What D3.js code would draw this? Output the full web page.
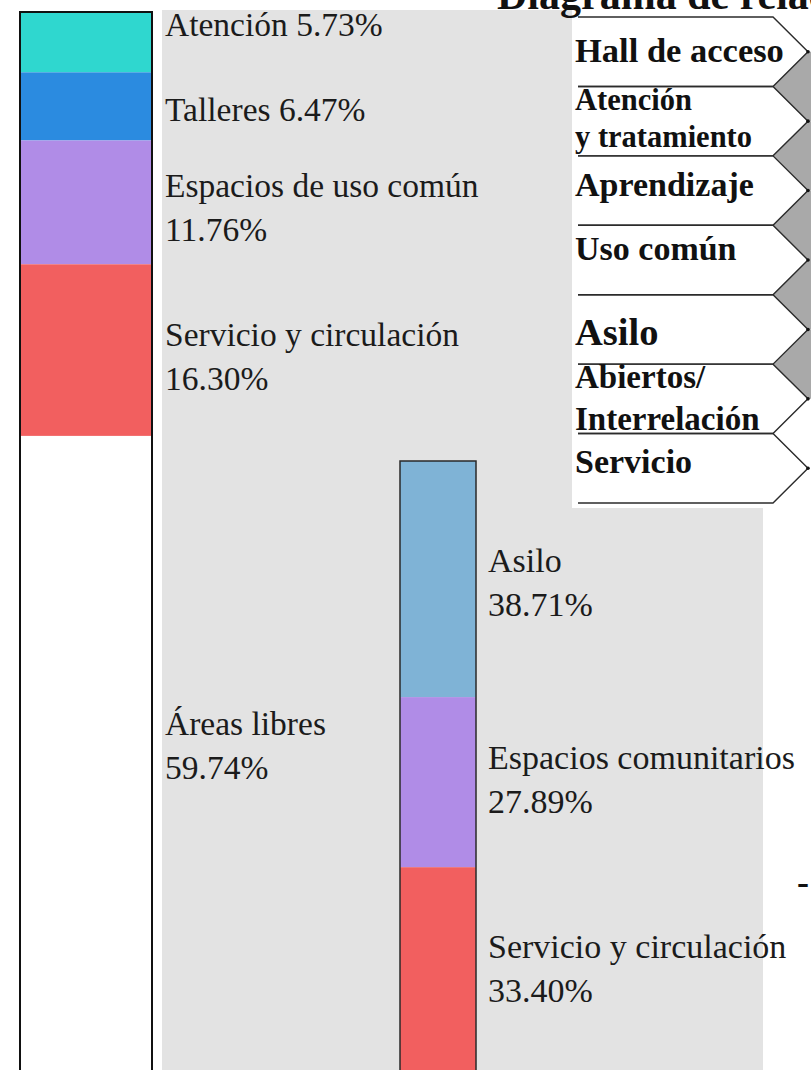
<!DOCTYPE html>
<html>
<head>
<meta charset="utf-8">
<script src="https://cdn.jsdelivr.net/npm/d3@7/dist/d3.min.js"></script>
<style>
  html, body { margin: 0; padding: 0; background: #ffffff; }
  svg { display: block; }
</style>
</head>
<body>
<script>
// ---------------- DATA ----------------
const leftCategories = ["Atención", "Talleres", "Espacios de uso común", "Servicio y circulación", "Áreas libres"];
const leftValues = [5.73, 6.47, 11.76, 16.30, 59.74];
const leftInline = [true, true, false, false, false];

const midCategories = ["Asilo", "Espacios comunitarios", "Servicio y circulación"];
const midValues = [38.71, 27.89, 33.40];

const flowRows = [["Hall de acceso"], ["Atención", "y tratamiento"], ["Aprendizaje"], ["Uso común"], ["Asilo"], ["Abiertos/", "Interrelación"], ["Servicio"]];
const flowLinked = [true, true, true, true, true, false];

const titleText = "Diagrama de relaciones";

// ---------------- STYLE ----------------
const leftColors = ["#2fd7cf", "#2b8be0", "#b08ce7", "#f25f5f", "#ffffff"];
const midColors = ["#7fb3d6", "#b08ce7", "#f25f5f"];
const leftLabelDy = [-6, 15, -5, -4, -15];
const midLabelDy = [-7, -13, -11];
const flowFontSize = [34.5, 30.5, 34, 34, 38.5, 33, 34];
const flowFirstDy = [45, 24, 40, 35, 50, 24, 39];
const flowLineGap = [0, 37, 0, 0, 0, 42, 0];

const W = 811, H = 1070;
const serif = "'Liberation Serif', 'Times New Roman', serif";

const svg = d3.select("body").append("svg").attr("width", W).attr("height", H);

// gray background panel
svg.append("rect").attr("x", 162).attr("y", 10).attr("width", 601).attr("height", H - 10).attr("fill", "#e3e3e3");

// ---------------- stacked bar helper ----------------
function stackBar(values, cats, colors, x0, x1, yScale, stroke, sw, labelX, labelDy, inline, lineGap, fs) {
  const cum = d3.cumsum(values);
  const segs = values.map((v, i) => ({ v, c: cats[i], col: colors[i], s: i ? cum[i - 1] : 0, e: cum[i], i }));
  const g = svg.append("g");
  g.selectAll("rect.seg").data(segs).join("rect")
    .attr("class", "seg")
    .attr("x", x0).attr("width", x1 - x0)
    .attr("y", d => yScale(d.s))
    .attr("height", d => yScale(d.e) - yScale(d.s))
    .attr("fill", d => d.col);
  // outline: runs past the bottom edge of the picture, as in the reference
  g.append("rect")
    .attr("x", x0).attr("width", x1 - x0)
    .attr("y", yScale(0)).attr("height", H + 20 - yScale(0))
    .attr("fill", "none").attr("stroke", stroke).attr("stroke-width", sw);
  const fmt = d => d.toFixed(2) + "%";
  const t = g.selectAll("text.lbl").data(segs).join("text")
    .attr("class", "lbl")
    .attr("x", labelX)
    .attr("y", d => (yScale(d.s) + yScale(d.e)) / 2 + labelDy[d.i])
    .attr("font-family", serif).attr("font-size", fs).attr("fill", "#1b1b1b");
  t.each(function (d) {
    const el = d3.select(this);
    if (inline && inline[d.i]) {
      el.text(d.c + " " + fmt(d.v));
    } else {
      el.append("tspan").attr("x", labelX).text(d.c);
      el.append("tspan").attr("x", labelX).attr("dy", lineGap).text(fmt(d.v));
    }
  });
}

// left bar
const yLeft = d3.scaleLinear().domain([0, 100]).range([12, 1065]);
stackBar(leftValues, leftCategories, leftColors, 20, 152, yLeft, "#111", 2, 165, leftLabelDy, leftInline, 44, 33.5);

// middle bar
const yMid = d3.scaleLinear().domain([0, 100]).range([461, 1071]);
stackBar(midValues, midCategories, midColors, 400, 476, yMid, "#2a2a2a", 1.5, 488, midLabelDy, null, 44, 34);

// ---------------- flow diagram (right) ----------------
svg.append("rect").attr("x", 572).attr("y", 10).attr("width", W - 572).attr("height", 498).attr("fill", "#ffffff");

const band = d3.scaleBand().domain(d3.range(flowRows.length)).range([17, 503]).padding(0);
const lx0 = 578, lx1 = 773, tipX = 808;
const fg = svg.append("g");

// gray wedges between linked rows
const wedges = flowLinked.map((l, i) => ({ l, i })).filter(d => d.l);
fg.selectAll("path.wedge").data(wedges).join("path")
  .attr("class", "wedge")
  .attr("d", d => {
    const b = band(d.i) + band.bandwidth();
    const mA = band(d.i) + band.bandwidth() / 2;
    const mB = band(d.i + 1) + band.bandwidth() / 2;
    return `M${lx1},${b}L${tipX},${mA}L${W + 2},${mA}L${W + 2},${mB}L${tipX},${mB}Z`;
  })
  .attr("fill", "#a9a9a9");

// arrow outlines
fg.selectAll("path.arrow").data(flowRows.map((r, i) => i)).join("path")
  .attr("class", "arrow")
  .attr("d", i => {
    const t = band(i), b = t + band.bandwidth(), m = t + band.bandwidth() / 2;
    return `M${lx0},${t}L${lx1},${t}L${tipX},${m}L${lx1},${b}L${lx0},${b}`;
  })
  .attr("fill", "none").attr("stroke", "#2b2b2b").attr("stroke-width", 1.4);

fg.selectAll("circle.tip").data(flowRows.map((r, i) => i)).join("circle")
  .attr("class", "tip")
  .attr("cx", tipX).attr("cy", i => band(i) + band.bandwidth() / 2)
  .attr("r", 1.8).attr("fill", "#111");

// labels
fg.selectAll("text.flow").data(flowRows.map((r, i) => ({ r, i }))).join("text")
  .attr("class", "flow")
  .attr("x", 575)
  .attr("y", d => band(d.i) + flowFirstDy[d.i])
  .attr("font-family", serif).attr("font-weight", "bold")
  .attr("font-size", d => flowFontSize[d.i]).attr("fill", "#111")
  .each(function (d) {
    const el = d3.select(this);
    d.r.forEach((line, k) => {
      el.append("tspan").attr("x", 575).attr("dy", k ? flowLineGap[d.i] : 0).text(line);
    });
  });

// title (cut at the top edge, as in the reference)
svg.append("text").attr("x", 497).attr("y", 9)
  .attr("font-family", serif).attr("font-weight", "bold").attr("font-size", 42)
  .attr("fill", "#111").text(titleText);

// stray dash at right edge (partial text)
svg.append("text").attr("x", 797).attr("y", 894)
  .attr("font-family", serif).attr("font-weight", "bold").attr("font-size", 36)
  .attr("fill", "#111").text("-");
</script>
</body>
</html>
